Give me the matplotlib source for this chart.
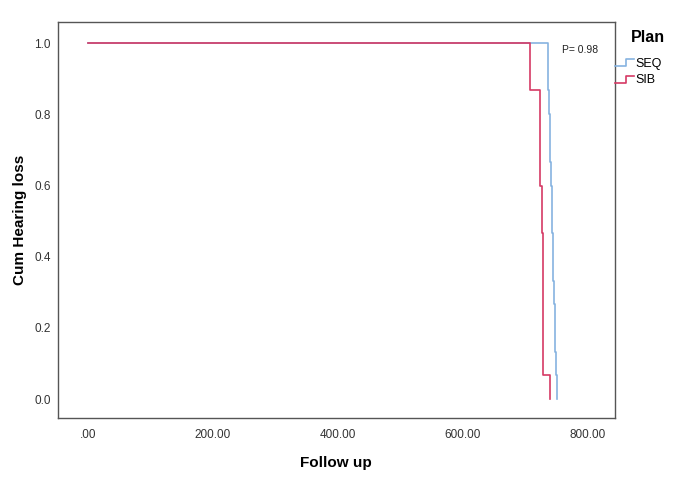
import matplotlib.pyplot as plt
import numpy as np
from matplotlib.legend_handler import HandlerBase
from matplotlib.lines import Line2D
from matplotlib.ticker import FuncFormatter

plt.rcParams['font.family'] = ['Liberation Sans', 'DejaVu Sans']

# Kaplan-Meier style step data (time of event, survival after event)
seq_time = [0, 736, 737, 738, 739, 740, 741, 742, 743, 744, 745, 746, 747, 748, 749, 750]
seq_surv = [1.0, 0.933, 0.867, 0.800, 0.733, 0.667, 0.600, 0.533, 0.467, 0.400,
            0.333, 0.267, 0.200, 0.133, 0.067, 0.0]
sib_time = [0, 707, 723, 726, 728, 729, 739]
sib_surv = [1.0, 0.867, 0.600, 0.467, 0.333, 0.067, 0.0]

p_text = 'P= 0.98'
blue = '#86b3e0'
red = '#d63a65'


class StepHandler(HandlerBase):
    # legend key drawn as a little step, like SPSS does
    def create_artists(self, legend, orig_handle, xdescent, ydescent,
                       width, height, fontsize, trans):
        xs = np.array([0, 0.55, 0.55, 1.0]) * width - xdescent
        ys = np.array([0.1, 0.1, 0.9, 0.9]) * height - ydescent
        ln = Line2D(xs, ys, color=orig_handle.get_color(),
                    linewidth=orig_handle.get_linewidth(), transform=trans)
        return [ln]


fig = plt.figure(figsize=(6.8, 4.8), dpi=100)
ax = fig.add_axes([0.085, 0.129, 0.819, 0.825])

l1, = ax.step(seq_time, seq_surv, where='post', color=blue, lw=1.2, label='SEQ')
l2, = ax.step(sib_time, sib_surv, where='post', color=red, lw=1.2, label='SIB')

ax.set_xlim(-48, 843)
ax.set_ylim(-0.053, 1.059)
ax.set_xticks([0, 200, 400, 600, 800])
ax.set_yticks([0.0, 0.2, 0.4, 0.6, 0.8, 1.0])
ax.xaxis.set_major_formatter(FuncFormatter(
    lambda v, p: ('%.2f' % v).lstrip('0') if v == 0 else '%.2f' % v))
ax.yaxis.set_major_formatter(FuncFormatter(lambda v, p: '%.1f' % v))
ax.tick_params(length=0, labelsize=8.5, labelcolor='#333333')
ax.tick_params(axis='x', pad=8)
ax.tick_params(axis='y', pad=5)
for s in ax.spines.values():
    s.set_color('#555555')
    s.set_linewidth(1.0)

ax.set_xlabel('Follow up', fontsize=11, fontweight='bold', labelpad=11)
ax.set_ylabel('Cum Hearing loss', fontsize=11, fontweight='bold', labelpad=5)

ax.text(758, 0.98, p_text, fontsize=7.5, ha='left', va='center', color='#222222')

fig.text(0.953, 0.921, 'Plan', fontsize=11.5, fontweight='bold',
         ha='center', va='center')
leg = fig.legend([l1, l2], ['SEQ', 'SIB'],
                 handler_map={Line2D: StepHandler()},
                 loc='upper left', bbox_to_anchor=(0.905, 0.879),
                 frameon=False, fontsize=9, handlelength=1.5,
                 handletextpad=0.1, labelspacing=0.35, borderaxespad=0,
                 borderpad=0)

plt.savefig('out.png', dpi=100)
plt.close()
